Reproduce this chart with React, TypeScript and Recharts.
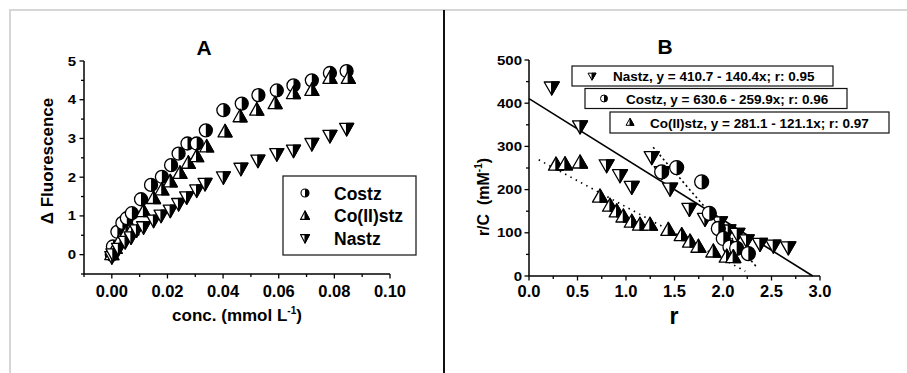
import React from 'react';
import { ScatterChart, Scatter, XAxis, YAxis, ReferenceLine } from 'recharts';

const FONT = '"Liberation Sans", Arial, Helvetica, sans-serif';

// ---------- Panel A: Δ Fluorescence vs conc. ----------
const costzConcA = [0, 0.0004, 0.002, 0.0038, 0.0054, 0.0072, 0.0105, 0.0141, 0.018, 0.0213, 0.024, 0.0272, 0.0305, 0.0338, 0.0401, 0.0467, 0.0527, 0.0593, 0.0653, 0.0719, 0.0784, 0.0844];
const costzFluoA = [0, 0.21, 0.59, 0.82, 0.94, 1.07, 1.43, 1.8, 2.01, 2.31, 2.61, 2.87, 2.87, 3.21, 3.73, 3.9, 4.12, 4.24, 4.37, 4.5, 4.69, 4.74];

const coiiConcA = [0, 0.0012, 0.003, 0.0051, 0.0072, 0.0114, 0.015, 0.018, 0.021, 0.0245, 0.0275, 0.0305, 0.0341, 0.0407, 0.0461, 0.0521, 0.0587, 0.0653, 0.0719, 0.0784, 0.085];
const coiiFluoA = [0, 0.16, 0.38, 0.55, 0.64, 1.11, 1.45, 1.67, 1.88, 2.1, 2.36, 2.53, 2.78, 3.17, 3.56, 3.73, 3.9, 4.16, 4.24, 4.55, 4.55];

const nastzConcA = [0, 0.0004, 0.0024, 0.0048, 0.0069, 0.0089, 0.0114, 0.015, 0.0177, 0.021, 0.024, 0.0269, 0.0305, 0.0335, 0.0401, 0.0464, 0.0525, 0.0593, 0.0653, 0.0719, 0.0784, 0.0844];
const nastzFluoA = [-0.05, 0.02, 0.16, 0.34, 0.46, 0.64, 0.72, 0.89, 1.02, 1.15, 1.32, 1.49, 1.67, 1.84, 2.01, 2.23, 2.44, 2.61, 2.7, 2.87, 3.08, 3.26];

const xMajorA = [0, 0.02, 0.04, 0.06, 0.08, 0.1];
const xMinorA = [-0.01, 0.01, 0.03, 0.05, 0.07, 0.09];
const yMajorA = [0, 1, 2, 3, 4, 5];
const yMinorA = [-0.5, 0.5, 1.5, 2.5, 3.5, 4.5];

// ---------- Panel B: Scatchard plot r/C vs r ----------
const nastzRB = [0.234, 0.526, 0.8, 0.938, 1.059, 1.265, 1.368, 1.454, 1.653, 1.814, 1.969, 2.055, 2.148, 2.244, 2.381, 2.519, 2.673];
const nastzRCB = [437, 347, 257, 234, 207, 276, 241, 203, 156, 133, 125, 106, 98, 83, 75, 71, 67];

const costzRB = [1.368, 1.522, 1.78, 1.859, 1.952, 2.003, 2.072, 2.141, 2.261];
const costzRCB = [241, 251, 218, 145, 110, 87, 67, 64, 52];

const coiiRB = [0.278, 0.371, 0.526, 0.732, 0.835, 0.904, 0.973, 1.059, 1.144, 1.247, 1.436, 1.574, 1.66, 1.746, 1.9, 2.038, 2.106];
const coiiRCB = [257, 258, 262, 183, 162, 149, 137, 125, 118, 118, 106, 94, 79, 67, 56, 44, 43];

// regression lines (endpoints of the fitted lines)
const nastzFitR = [0, 2.925];
const nastzFitRC = [410.7, 0];
const costzFitR = [1.28, 2.35];
const costzFitRC = [297.9, 19.8];
const coiiFitR = [0.1, 2.23];
const coiiFitRC = [269.0, 11.0];

const xMajorB = [0, 0.5, 1, 1.5, 2, 2.5, 3];
const xMinorB = [0.25, 0.75, 1.25, 1.75, 2.25, 2.75];
const yMajorB = [0, 100, 200, 300, 400, 500];
const yMinorB = [50, 150, 250, 350, 450];

const legendB = [
  'Nastz, y = 410.7 - 140.4x; r: 0.95',
  'Costz, y = 630.6 - 259.9x; r: 0.96',
  'Co(II)stz, y = 281.1 - 121.1x; r: 0.97',
];

const zip = (xs: number[], ys: number[]) => xs.map((x, i) => ({ x, y: ys[i] }));

// ---------- symbols ----------
const halfCircle = (r: number, cx: number, cy: number, sw = 1.3) => (
  <g>
    <circle cx={cx} cy={cy} r={r} fill="#fff" stroke="#000" strokeWidth={sw} />
    <path d={`M${cx},${cy - r} A${r},${r} 0 0 1 ${cx},${cy + r} Z`} fill="#000" />
  </g>
);
const upTri = (w: number, h: number, cx: number, cy: number, sw = 1.3) => {
  const t = cy - h * 0.6, b = cy + h * 0.4;
  return (
    <g>
      <polygon points={`${cx},${t} ${cx - w / 2},${b} ${cx + w / 2},${b}`} fill="#fff" stroke="#000" strokeWidth={sw} strokeLinejoin="round" />
      <polygon points={`${cx},${t} ${cx},${b} ${cx + w / 2},${b}`} fill="#000" stroke="#000" strokeWidth={sw} strokeLinejoin="round" />
    </g>
  );
};
const downTri = (w: number, h: number, cx: number, cy: number, sw = 1.3) => {
  const t = cy - h * 0.4, b = cy + h * 0.6;
  return (
    <g>
      <polygon points={`${cx - w / 2},${t} ${cx + w / 2},${t} ${cx},${b}`} fill="#fff" stroke="#000" strokeWidth={sw} strokeLinejoin="round" />
      <polygon points={`${cx},${t} ${cx + w / 2},${t} ${cx},${b}`} fill="#000" stroke="#000" strokeWidth={sw} strokeLinejoin="round" />
    </g>
  );
};

const circleShape = (r: number) => (p: any) => halfCircle(r, p.cx, p.cy);
const upShape = (w: number, h: number) => (p: any) => upTri(w, h, p.cx, p.cy);
const downShape = (w: number, h: number) => (p: any) => downTri(w, h, p.cx, p.cy);

// ---------- ticks ----------
const near = (arr: number[], v: number) => arr.some((m) => Math.abs(m - v) < 1e-9);

const makeXTick = (majors: number[], digits: number, dy: number, fs: number) => (props: any) => {
  const { x, y, payload } = props;
  const v = payload.value;
  const major = near(majors, v);
  return (
    <g>
      <line x1={x} x2={x} y1={y} y2={y + (major ? 4.5 : 3)} stroke="#000" strokeWidth={1.3} />
      {major && (
        <text x={x} y={y + dy} textAnchor="middle" fontFamily={FONT} fontWeight="bold" fontSize={fs} fill="#000">
          {v.toFixed(digits)}
        </text>
      )}
    </g>
  );
};

const makeYTick = (majors: number[], dx: number, fs: number, sx: number) => (props: any) => {
  const { x, y, payload } = props;
  const v = payload.value;
  const major = near(majors, v);
  return (
    <g>
      <line x1={x - (major ? 4.5 : 3)} x2={x} y1={y} y2={y} stroke="#000" strokeWidth={1.3} />
      {major && (
        <text transform={`translate(${x - dx},${y + 4.5}) scale(${sx},1)`} textAnchor="end" fontFamily={FONT} fontWeight="bold" fontSize={fs} fill="#000">
          {String(v)}
        </text>
      )}
    </g>
  );
};

const axisStyle = { stroke: '#000', strokeWidth: 1.5 };

const textProps = { fontFamily: FONT, fontWeight: 'bold' as const, fill: '#000' };

export default function App() {
  const costzA = zip(costzConcA, costzFluoA);
  const coiiA = zip(coiiConcA, coiiFluoA);
  const nastzA = zip(nastzConcA, nastzFluoA);
  const nastzB = zip(nastzRB, nastzRCB);
  const costzB = zip(costzRB, costzRCB);
  const coiiB = zip(coiiRB, coiiRCB);

  return (
    <div style={{ position: 'absolute', left: 0, top: 0, width: 907, height: 373, background: '#fff', overflow: 'hidden' }}>
      {/* frame lines */}
      <div style={{ position: 'absolute', left: 9, top: 9, width: 898, height: 2, background: '#d6d6d6' }} />
      <div style={{ position: 'absolute', left: 9, top: 9, width: 2, height: 364, background: '#d6d6d6' }} />
      <div style={{ position: 'absolute', left: 443, top: 10, width: 2, height: 363, background: '#111' }} />

      {/* Panel A */}
      <div style={{ position: 'absolute', left: 0, top: 0 }}>
        <ScatterChart width={444} height={373} margin={{ top: 61, right: 54, bottom: 0, left: 0 }}>
          <XAxis
            type="number"
            dataKey="x"
            domain={[-0.01, 0.1]}
            ticks={[...xMinorA, ...xMajorA].sort((a, b) => a - b)}
            interval={0}
            height={99}
            tickSize={0}
            tickMargin={0}
            tickLine={false}
            axisLine={axisStyle}
            tick={makeXTick(xMajorA, 2, 22.5, 16.5)}
            allowDataOverflow
          />
          <YAxis
            type="number"
            dataKey="y"
            domain={[-0.5, 5]}
            ticks={[...yMinorA, ...yMajorA].sort((a, b) => a - b)}
            interval={0}
            width={84}
            tickSize={0}
            tickMargin={0}
            tickLine={false}
            axisLine={axisStyle}
            tick={makeYTick(yMajorA, 8, 12.5, 1.2)}
            allowDataOverflow
          />
          <Scatter name="Costz" data={costzA} shape={circleShape(6.5)} isAnimationActive={false} />
          <Scatter name="Co(II)stz" data={coiiA} shape={upShape(14, 12.5)} isAnimationActive={false} />
          <Scatter name="Nastz" data={nastzA} shape={downShape(14, 12.5)} isAnimationActive={false} />
        </ScatterChart>
      </div>

      {/* Panel B */}
      <div style={{ position: 'absolute', left: 445, top: 0 }}>
        <ScatterChart width={462} height={373} margin={{ top: 60, right: 87, bottom: 0, left: 0 }}>
          <XAxis
            type="number"
            dataKey="x"
            domain={[0, 3]}
            ticks={[...xMinorB, ...xMajorB].sort((a, b) => a - b)}
            interval={0}
            height={97}
            tickSize={0}
            tickMargin={0}
            tickLine={false}
            axisLine={axisStyle}
            tick={makeXTick(xMajorB, 1, 21, 16.5)}
            allowDataOverflow
          />
          <YAxis
            type="number"
            dataKey="y"
            domain={[0, 500]}
            ticks={[...yMinorB, ...yMajorB].sort((a, b) => a - b)}
            interval={0}
            width={84}
            tickSize={0}
            tickMargin={0}
            tickLine={false}
            axisLine={axisStyle}
            tick={makeYTick(yMajorB, 7, 12.5, 1.2)}
            allowDataOverflow
          />
          <ReferenceLine
            segment={[{ x: nastzFitR[0], y: nastzFitRC[0] }, { x: nastzFitR[1], y: nastzFitRC[1] }]}
            stroke="#000"
            strokeWidth={1.6}
          />
          <ReferenceLine
            segment={[{ x: coiiFitR[0], y: coiiFitRC[0] }, { x: coiiFitR[1], y: coiiFitRC[1] }]}
            stroke="#000"
            strokeWidth={1.6}
            strokeDasharray="1.5 4.5"
          />
          <ReferenceLine
            segment={[{ x: costzFitR[0], y: costzFitRC[0] }, { x: costzFitR[1], y: costzFitRC[1] }]}
            stroke="#000"
            strokeWidth={1.6}
            strokeDasharray="2 3"
          />
          <Scatter name="Nastz" data={nastzB} shape={downShape(15, 13)} isAnimationActive={false} />
          <Scatter name="Costz" data={costzB} shape={circleShape(7)} isAnimationActive={false} />
          <Scatter name="Co(II)stz" data={coiiB} shape={upShape(15, 13)} isAnimationActive={false} />
        </ScatterChart>
      </div>

      {/* Titles, axis labels, legends */}
      <svg width={907} height={373} style={{ position: 'absolute', left: 0, top: 0, pointerEvents: 'none' }}>
        <text x={204} y={55} textAnchor="middle" fontSize={21} {...textProps}>A</text>
        <text x={665} y={54} textAnchor="middle" fontSize={21} {...textProps}>B</text>

        <text x={237} y={321} textAnchor="middle" fontSize={17} {...textProps}>
          conc. (mmol L<tspan fontSize={10} dy={-7}>-1</tspan><tspan dy={7}>)</tspan>
        </text>
        <text transform="translate(53,161) rotate(-90)" textAnchor="middle" fontSize={17} {...textProps}>Δ Fluorescence</text>

        <text x={674} y={324} textAnchor="middle" fontSize={23} {...textProps}>r</text>
        <text transform="translate(489,197) rotate(-90)" textAnchor="middle" fontSize={16} style={{ whiteSpace: 'pre' }} {...textProps}>
          {'r/C  (mM'}<tspan fontSize={10} dy={-7}>-1</tspan><tspan dy={7}>)</tspan>
        </text>

        {/* Legend A */}
        <rect x={283} y={176} width={133} height={79} fill="#fff" stroke="#222" strokeWidth={1.3} />
        {halfCircle(4, 305, 193, 1.1)}
        {upTri(9, 8.5, 305, 216, 1.1)}
        {downTri(9, 8.5, 305, 238, 1.1)}
        <text x={334} y={199.5} fontSize={17.5} {...textProps}>Costz</text>
        <text x={334} y={222} fontSize={17.5} {...textProps}>Co(II)stz</text>
        <text x={334} y={244.5} fontSize={17.5} {...textProps}>Nastz</text>

        {/* Legend B */}
        <rect x={572} y={66} width={261} height={20} fill="#fff" stroke="#111" strokeWidth={1.2} />
        {downTri(8, 7, 592, 76, 1)}
        <text x={613} y={81} fontSize={13.5} {...textProps}>{legendB[0]}</text>

        <rect x={585} y={88.5} width={262} height={20} fill="#fff" stroke="#111" strokeWidth={1.2} />
        {halfCircle(3.5, 604, 98.5, 1)}
        <text x={626} y={103.5} fontSize={13.5} {...textProps}>{legendB[1]}</text>

        <rect x={610} y={112} width={279} height={21} fill="#fff" stroke="#111" strokeWidth={1.2} />
        {upTri(8, 7, 630, 122.5, 1)}
        <text x={650} y={127.5} fontSize={13.5} {...textProps}>{legendB[2]}</text>
      </svg>
    </div>
  );
}
